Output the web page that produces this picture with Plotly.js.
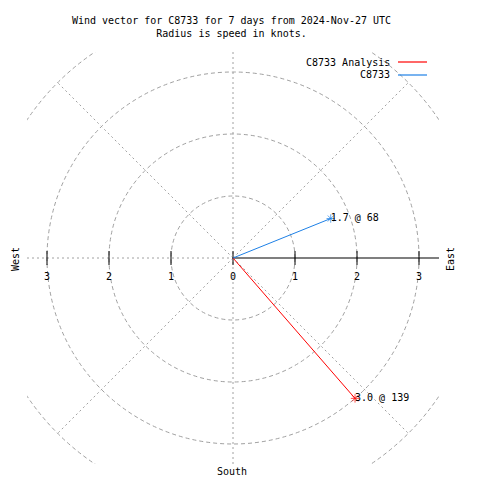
<!DOCTYPE html>
<html><head><meta charset="utf-8">
<script src="https://cdn.plot.ly/plotly-3.0.1.min.js"></script>
<style>html,body{margin:0;padding:0;background:#fff}</style>
</head><body><div id="chart" style="width:480px;height:480px"></div>
<script>
// ---- data ----
const seriesNames = ['C8733 Analysis', 'C8733'];
const speedKnots = [3.0, 1.7];
const directionDeg = [139, 68];
const seriesColors = ['#ff0000', '#1e80e6'];
const tickValues = [-3, -2, -1, 0, 1, 2, 3];
const tickLabels = ['3', '2', '1', '0', '1', '2', '3'];
const gridRadii = [1, 2, 3, 4];
const spokeAngles = [45, 135, 225, 315];
const titleText = 'Wind vector for C8733 for 7 days from 2024-Nov-27 UTC<br>Radius is speed in knots.';

// ---- layout constants ----
const FONT = 'DejaVu Sans Mono, Liberation Mono, monospace';
const ML = 27, MT = 52, PW = 412, PH = 412;
const R = (PW / 2) / 62;      // axis half-range in knots
const GRAY = '#a0a0a0';
const px2x = p => (p - ML) / PW;
const px2y = p => 1 - (p - MT) / PH;
const rad = d => d * Math.PI / 180;

const shapes = [];
gridRadii.forEach(r => shapes.push({type: 'circle', xref: 'x', yref: 'y', x0: -r, y0: -r, x1: r, y1: r,
  line: {color: GRAY, width: 1, dash: '4px,3px'}, layer: 'below'}));
spokeAngles.forEach(a => shapes.push({type: 'line', xref: 'x', yref: 'y', x0: 0, y0: 0,
  x1: 4 * Math.sin(rad(a)), y1: 4 * Math.cos(rad(a)),
  line: {color: GRAY, width: 1, dash: '2px,3px'}, layer: 'below'}));
shapes.push({type: 'line', xref: 'x', yref: 'y', x0: -R, y0: 0, x1: 0, y1: 0, line: {color: GRAY, width: 1, dash: '2px,3px'}, layer: 'below'});
shapes.push({type: 'line', xref: 'x', yref: 'y', x0: 0, y0: -R, x1: 0, y1: R, line: {color: GRAY, width: 1, dash: '2px,3px'}, layer: 'below'});
shapes.push({type: 'line', xref: 'x', yref: 'y', x0: 0, y0: 0, x1: R, y1: 0, line: {color: '#000', width: 1.2}, layer: 'below'});

// legend (text on the left of the sample line, gnuplot style)
const legendY = [62, 75];
const annotations = [];
seriesNames.forEach((n, i) => {
  annotations.push({text: n, xref: 'paper', yref: 'paper', x: px2x(392), y: px2y(legendY[i]),
    xanchor: 'right', yanchor: 'middle', showarrow: false, font: {family: FONT, size: 10, color: '#000'}});
  shapes.push({type: 'line', xref: 'paper', yref: 'paper', x0: px2x(398), x1: px2x(427),
    y0: px2y(legendY[i]), y1: px2y(legendY[i]), line: {color: seriesColors[i], width: 1.2}});
});
annotations.push({text: 'West', xref: 'paper', yref: 'paper', x: px2x(15), y: px2y(259), textangle: -90,
  xanchor: 'center', yanchor: 'middle', showarrow: false, font: {family: FONT, size: 10, color: '#000'}});
annotations.push({text: 'East', xref: 'paper', yref: 'paper', x: px2x(450), y: px2y(259), textangle: -90,
  xanchor: 'center', yanchor: 'middle', showarrow: false, font: {family: FONT, size: 10, color: '#000'}});
annotations.push({text: 'South', xref: 'paper', yref: 'paper', x: px2x(232), y: px2y(471),
  xanchor: 'center', yanchor: 'middle', showarrow: false, font: {family: FONT, size: 10, color: '#000'}});

const traces = [];
// axis tick marks crossing the horizontal axis
traces.push({type: 'scatter', xaxis: 'x', yaxis: 'y', x: tickValues, y: tickValues.map(() => 0),
  mode: 'markers', marker: {symbol: 'line-ns-open', size: 10, color: '#000', line: {color: '#000', width: 1}},
  hoverinfo: 'skip', showlegend: false, cliponaxis: false});
// wind vectors in the polar frame
seriesNames.forEach((n, i) => {
  traces.push({type: 'scatterpolar', name: n, subplot: 'polar',
    r: [0, speedKnots[i]], theta: [directionDeg[i], directionDeg[i]],
    mode: 'lines+markers',
    line: {color: seriesColors[i], width: 1},
    marker: {symbol: 'asterisk-open', size: [0, 7], color: seriesColors[i], line: {color: seriesColors[i], width: 1}},
    cliponaxis: false, showlegend: false, hoverinfo: 'skip'});
  traces.push({type: 'scatterpolar', name: n + ' label', subplot: 'polar',
    r: [speedKnots[i]], theta: [directionDeg[i]],
    mode: 'text', text: [speedKnots[i].toFixed(1) + ' @ ' + directionDeg[i]],
    textposition: 'middle right',
    textfont: {family: FONT, size: 10, color: '#000'},
    cliponaxis: false, showlegend: false, hoverinfo: 'skip'});
});

const layout = {
  width: 480, height: 480,
  margin: {l: ML, r: 480 - ML - PW, t: MT, b: 480 - MT - PH, pad: 0},
  paper_bgcolor: '#fff', plot_bgcolor: 'rgba(0,0,0,0)',
  showlegend: false,
  title: {text: titleText, font: {family: FONT, size: 10, color: '#000'},
    xref: 'container', yref: 'container', x: 231.5 / 480, xanchor: 'center', y: 1 - 24 / 480, yanchor: 'top'},
  xaxis: {range: [-R, R], anchor: 'free', position: 0.5, showgrid: false, zeroline: false, showline: false,
    ticks: '', tickvals: tickValues, ticktext: tickLabels, ticklabelstandoff: 11,
    tickfont: {family: FONT, size: 10, color: '#000'}, fixedrange: true},
  yaxis: {range: [-R, R], visible: false, showgrid: false, zeroline: false, fixedrange: true},
  polar: {domain: {x: [0, 1], y: [0, 1]}, bgcolor: 'rgba(0,0,0,0)',
    radialaxis: {range: [0, R], visible: false, showgrid: false},
    angularaxis: {rotation: 90, direction: 'clockwise', visible: false, showgrid: false}},
  shapes: shapes, annotations: annotations
};
Plotly.newPlot('chart', traces, layout, {staticPlot: true, displayModeBar: false});
</script></body></html>
